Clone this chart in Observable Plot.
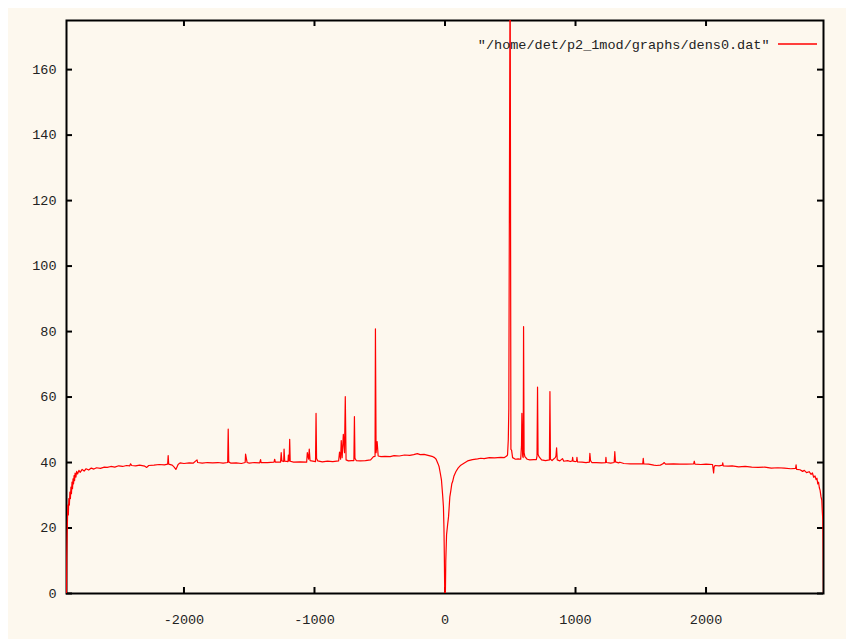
<!DOCTYPE html>
<html><head><meta charset="utf-8">
<script src="https://cdn.jsdelivr.net/npm/d3@7"></script>
<script src="https://cdn.jsdelivr.net/npm/@observablehq/plot@0.6"></script>
<style>
html,body{margin:0;padding:0;background:#fff;overflow:hidden}
#chart{position:absolute;left:8px;top:8px}
</style></head><body><div id="chart"></div>
<script>
const xs = [
-2900,-2898,-2895,-2890,-2886,-2882,-2878,-2874,-2870,-2866,-2862,-2858,-2854,-2850,-2846,-2842,-2838,-2834,-2828,-2822,
-2815,-2805,-2795,-2780,-2765,-2750,-2730,-2710,-2690,-2670,-2640,-2610,-2588,-2560,-2530,-2500,-2470,-2440,-2415,-2409,
-2400,-2370,-2340,-2300,-2285,-2270,-2230,-2190,-2150,-2125,-2121,-2117,-2090,-2075,-2062,-2055,-2045,-2030,-2000,-1960,
-1930,-1900,-1895,-1860,-1820,-1780,-1740,-1700,-1665,-1661,-1657,-1640,-1600,-1560,-1531,-1528,-1522,-1516,-1500,-1460,
-1420,-1413,-1409,-1360,-1310,-1305,-1300,-1260,-1255,-1250,-1236,-1233,-1228,-1203,-1200,-1194,-1190,-1186,-1160,-1110,
-1060,-1055,-1045,-1040,-1034,-992,-988,-984,-975,-940,-900,-860,-815,-808,-800,-795,-788,-779,-770,-764,
-758,-740,-715,-698,-694,-690,-680,-650,-610,-570,-548,-536,-533,-528,-520,-512,-490,-460,-420,-390,
-350,-310,-270,-240,-212,-190,-160,-130,-100,-80,-68,-52,-45,-35,-27,-18,-12,-8,-5,-2,
3,6,12,20,27,33,37,45,52,58,68,83,100,121,145,173,210,250,274,300,
340,380,428,455,470,479,485,489,499,505,510,518,540,560,580,586,589,595,599,602,
606,612,630,650,680,700,705,709,713,720,740,770,800,804,808,820,845,850,855,860,
880,900,910,940,960,975,978,982,1000,1008,1011,1015,1050,1080,1106,1110,1115,1125,1160,1200,
1230,1233,1237,1270,1296,1301,1306,1330,1340,1370,1420,1470,1515,1519,1523,1560,1600,1620,1650,1670,
1678,1690,1750,1800,1850,1905,1910,1915,1960,2000,2050,2058,2062,2070,2100,2126,2128,2132,2170,2200,
2250,2300,2350,2400,2450,2500,2550,2600,2650,2686,2690,2694,2720,2740,2753,2770,2790,2805,2815,2825,
2835,2843,2850,2856,2862,2868,2874,2881,2887,2891,2895,2898,2900
];
const ys = [
0,11,18,27,24,29,27,31,29,32.5,30.5,34,32,35,33.5,36,34.5,36.8,35.5,37.3,
36.5,37.6,37,37.9,37.4,38.1,37.7,38.3,38,38.4,38.2,38.6,38.5,38.8,38.6,39,38.8,39.1,39,39.6,
39.1,39,39.2,38.9,38.5,39.1,39.2,39.4,39.3,39.5,42.1,39.5,39.2,38.6,37.9,38.5,39.4,39.9,39.7,39.9,
39.8,40.8,40,39.8,40,39.9,40,39.8,40,50.2,40.2,39.8,39.9,39.7,40,42.6,41.3,40,39.8,40,
39.9,40.9,40,40,40.1,41,40.1,40.1,43,40.5,40.3,44.1,40.4,40.3,42.3,40.5,47.1,40.4,40.1,40.2,
40.1,43,41,44.1,40.6,40.3,55,41.2,40.5,40.2,40.4,40.3,40.5,43.2,41,46.7,41.5,48.6,43,60.1,
40.8,40.5,40.6,40.6,54,41.3,40.6,40.5,40.6,40.8,41.8,41.9,80.8,43,46.4,42,41.8,41.9,41.8,42.1,
42,42.3,42.2,42.4,42.7,42.4,42.5,42.2,41.9,41.5,41,39.5,38.7,36.5,34.6,30,26.5,20,11,0,
0,10,18,21,23.4,27,29.5,31.5,33.5,34.1,35.8,37.2,38.3,39.2,39.8,40.5,40.9,41.1,41.3,41.2,
41.5,41.4,41.6,41.5,41.9,42.3,47,56.6,200,44,43.8,41.5,41,41.1,41,45,55,42,41.5,81.5,
43,41.8,41,40.8,40.9,40.9,42,63,42.5,41.8,40.8,40.6,40.8,61.7,41,40.6,41.5,42,44.5,40.8,
40.5,41.2,40.4,40.6,40.3,40.5,41.6,40.4,40.3,40.4,41.6,40.2,40.1,40,40.1,42.8,40.6,40,40,39.9,
40,41.6,40,39.8,40,43.3,40.2,39.9,40.1,39.7,39.6,39.6,39.6,41.3,39.6,39.5,39.2,39.1,39.2,39.6,
40,39.5,39.6,39.5,39.5,39.6,40.4,39.5,39.4,39.5,39.4,36.8,38.7,39.1,39,39.2,39.9,39,38.9,39,
38.7,38.8,38.6,38.5,38.6,38.3,38.4,38.3,38.1,38.2,39.3,37.9,37.8,37.3,37.6,36.9,37.2,36.4,36.8,35.5,
35.9,34.8,35.2,33.5,34,32.3,31.5,29.5,28.5,25,22.4,12,0
];
const xTicks = [-2000, -1000, 0, 1000, 2000];
const yTicks = [0, 20, 40, 60, 80, 100, 120, 140, 160];
const seriesName = '"/home/det/p2_1mod/graphs/dens0.dat"';

const data = xs.map((x, i) => ({x, y: ys[i]}));
const W = 838, H = 631, mL = 58, mR = 23, mT = 12, mB = 46;
const innerW = W - mL - mR, innerH = H - mT - mB;
const tickLen = 6;

const plot = Plot.plot({
  width: W, height: H,
  marginLeft: mL, marginRight: mR, marginTop: mT, marginBottom: mB,
  style: {background: "#fdf8ee", fontFamily: "'Liberation Mono', monospace", fontSize: "13.5px", color: "#222"},
  x: {domain: [-2900, 2900], label: null},
  y: {domain: [0, 175], label: null},
  marks: [
    Plot.axisX(xTicks, {tickSize: 0, tickPadding: 21, tickFormat: d => String(d), label: null}),
    Plot.axisY(yTicks, {tickSize: 0, tickPadding: 10, tickFormat: d => String(d), label: null}),
    Plot.tickX(xTicks, {x: d => d, insetTop: innerH - tickLen, stroke: "black", strokeWidth: 2}),
    Plot.tickX(xTicks, {x: d => d, insetBottom: innerH - tickLen, stroke: "black", strokeWidth: 2}),
    Plot.tickY(yTicks, {y: d => d, insetRight: innerW - tickLen, stroke: "black", strokeWidth: 2}),
    Plot.tickY(yTicks, {y: d => d, insetLeft: innerW - tickLen, stroke: "black", strokeWidth: 2}),
    Plot.frame({stroke: "black", strokeWidth: 2}),
    Plot.line(data, {x: "x", y: "y", stroke: "#ff0000", strokeWidth: 1.2, clip: true}),
    Plot.text([seriesName], {frameAnchor: "top-right", text: d => d, textAnchor: "end", lineAnchor: "middle", dx: -54, dy: 24, fill: "#222"})
  ]
});
d3.select(plot).append("line")
  .attr("x1", W - mR - 45).attr("x2", W - mR - 6)
  .attr("y1", mT + 24).attr("y2", mT + 24)
  .attr("stroke", "#ff0000").attr("stroke-width", 1.5);
document.getElementById("chart").appendChild(plot);
</script></body></html>
